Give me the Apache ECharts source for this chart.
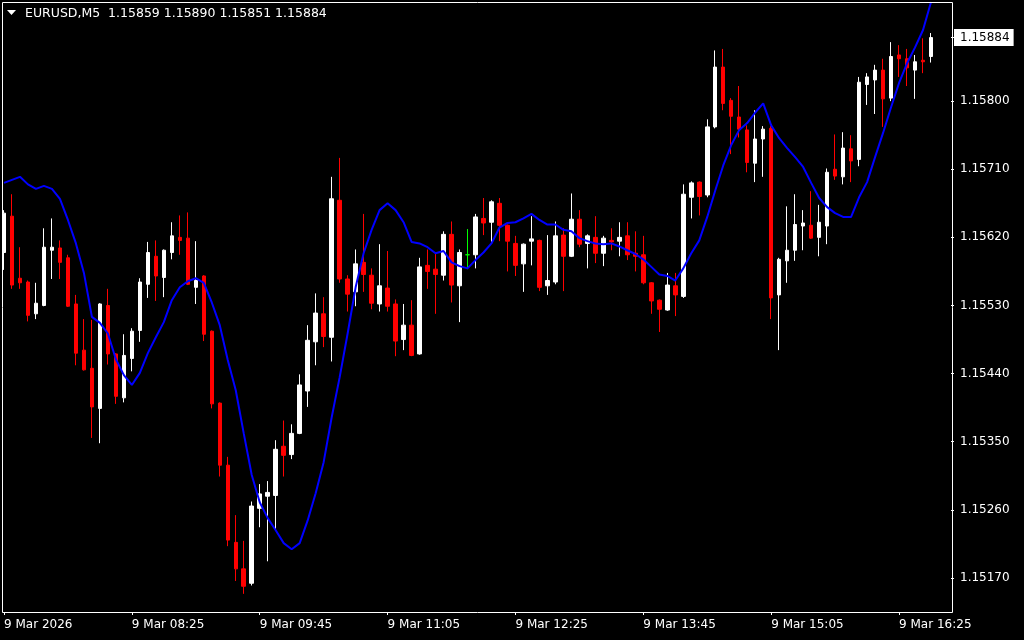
<!DOCTYPE html>
<html>
<head>
<meta charset="utf-8">
<script src="https://cdn.jsdelivr.net/npm/echarts@6/dist/echarts.min.js"></script>
<style>html,body{margin:0;padding:0;background:#000;}#c{width:1024px;height:640px;}</style>
</head>
<body>
<div id="c"></div>
<script>
// ---- data (EURUSD M5, 9 Mar 2026, 07:05 .. 16:45) ----
const symbol = 'EURUSD,M5';
const dayLabel = '9 Mar';
const yearLabel = '2026';
const startTime = '07:05';
const barMinutes = 5;
const emptySlots = 2;

const open = [1.15600,1.15648,1.15566,1.15561,1.15519,1.15530,1.15603,1.15606,1.15593,1.15532,
1.15471,1.15447,1.15394,1.15530,1.15466,1.15408,1.15460,1.15497,1.15558,1.15595,
1.15567,1.15600,1.15620,1.15619,1.15554,1.15569,1.15496,1.15401,1.15319,1.15217,
1.15182,1.15163,1.15262,1.15278,1.15279,1.15344,1.15333,1.15361,1.15417,1.15482,
1.15519,1.15488,1.15669,1.15565,1.15548,1.15587,1.15570,1.15532,1.15553,1.15532,
1.15485,1.15504,1.15466,1.15583,1.15578,1.15570,1.15624,1.15556,1.15597,1.15597,
1.15645,1.15640,1.15665,1.15636,1.15612,1.15585,1.15615,1.15616,1.15556,1.15561,
1.15623,1.15595,1.15644,1.15612,1.15620,1.15599,1.15616,1.15615,1.15622,1.15599,
1.15597,1.15560,1.15537,1.15524,1.15556,1.15542,1.15673,1.15693,1.15676,1.15766,
1.15845,1.15801,1.15779,1.15762,1.15718,1.15750,1.15764,1.15544,1.15589,1.15603,
1.15635,1.15636,1.15620,1.15635,1.15710,1.15700,1.15737,1.15723,1.15822,1.15828,
1.15841,1.15804,1.15861,1.15856,1.15841,1.15854,1.15859];

const close = [1.15652,1.15557,1.15560,1.15517,1.15533,1.15607,1.15607,1.15587,1.15529,1.15467,
1.15445,1.15396,1.15532,1.15466,1.15410,1.15464,1.15496,1.15561,1.15600,1.15569,
1.15603,1.15622,1.15616,1.15558,1.15563,1.15492,1.15400,1.15319,1.15220,1.15182,
1.15159,1.15265,1.15281,1.15283,1.15340,1.15332,1.15361,1.15425,1.15484,1.15520,
1.15489,1.15671,1.15565,1.15545,1.15585,1.15571,1.15533,1.15556,1.15529,1.15483,
1.15504,1.15464,1.15581,1.15575,1.15571,1.15624,1.15557,1.15600,1.15597,1.15647,
1.15639,1.15667,1.15636,1.15615,1.15583,1.15611,1.15618,1.15554,1.15563,1.15622,
1.15595,1.15644,1.15611,1.15622,1.15599,1.15619,1.15614,1.15620,1.15597,1.15595,
1.15560,1.15536,1.15525,1.15557,1.15544,1.15677,1.15692,1.15674,1.15766,1.15845,
1.15797,1.15780,1.15763,1.15719,1.15750,1.15763,1.15540,1.15591,1.15603,1.15637,
1.15639,1.15619,1.15640,1.15706,1.15701,1.15738,1.15721,1.15825,1.15832,1.15841,
1.15803,1.15859,1.15856,1.15844,1.15852,1.15852,1.15884];

const low = [1.15577,1.15552,1.15552,1.15509,1.15512,1.15529,1.15565,1.15565,1.15528,1.15451,
1.15444,1.15355,1.15348,1.15452,1.15400,1.15402,1.15443,1.15482,1.15540,1.15536,
1.15541,1.15591,1.15597,1.15557,1.15532,1.15483,1.15394,1.15304,1.15212,1.15166,
1.15149,1.15160,1.15237,1.15192,1.15232,1.15304,1.15327,1.15360,1.15396,1.15451,
1.15475,1.15456,1.15560,1.15522,1.15529,1.15548,1.15525,1.15522,1.15522,1.15463,
1.15471,1.15463,1.15465,1.15552,1.15519,1.15563,1.15534,1.15508,1.15578,1.15579,
1.15623,1.15614,1.15615,1.15575,1.15569,1.15548,1.15583,1.15549,1.15544,1.15558,
1.15549,1.15594,1.15607,1.15579,1.15586,1.15582,1.15603,1.15595,1.15590,1.15575,
1.15558,1.15519,1.15495,1.15523,1.15516,1.15540,1.15645,1.15649,1.15673,1.15764,
1.15788,1.15730,1.15752,1.15706,1.15693,1.15700,1.15512,1.15471,1.15560,1.15589,
1.15603,1.15618,1.15595,1.15611,1.15696,1.15690,1.15693,1.15714,1.15795,1.15783,
1.15766,1.15800,1.15832,1.15820,1.15803,1.15837,1.15851];

const high = [1.15656,1.15677,1.15607,1.15563,1.15560,1.15632,1.15645,1.15616,1.15597,1.15544,
1.15512,1.15511,1.15533,1.15552,1.15467,1.15492,1.15500,1.15566,1.15614,1.15616,
1.15604,1.15640,1.15649,1.15653,1.15615,1.15570,1.15497,1.15402,1.15330,1.15253,
1.15219,1.15271,1.15294,1.15298,1.15352,1.15378,1.15373,1.15439,1.15504,1.15546,
1.15541,1.15700,1.15725,1.15570,1.15604,1.15651,1.15579,1.15611,1.15602,1.15538,
1.15532,1.15537,1.15593,1.15604,1.15598,1.15628,1.15641,1.15604,1.15631,1.15651,
1.15672,1.15669,1.15672,1.15637,1.15622,1.15612,1.15648,1.15617,1.15623,1.15641,
1.15632,1.15678,1.15656,1.15624,1.15648,1.15622,1.15632,1.15640,1.15640,1.15628,
1.15622,1.15561,1.15538,1.15573,1.15573,1.15690,1.15694,1.15694,1.15776,1.15867,
1.15869,1.15804,1.15820,1.15768,1.15788,1.15767,1.15767,1.15593,1.15661,1.15677,
1.15656,1.15681,1.15663,1.15711,1.15756,1.15759,1.15755,1.15832,1.15837,1.15848,
1.15856,1.15878,1.15874,1.15869,1.15861,1.15883,1.15890];

// blue indicator line, read per bar
const maLine = [1.15692,1.15696,1.15700,1.15690,1.15684,1.15688,1.15684,1.15671,1.15643,1.15612,
1.15573,1.15515,1.15507,1.15493,1.15459,1.15438,1.15425,1.15441,1.15467,1.15488,
1.15508,1.15537,1.15554,1.15562,1.15566,1.15560,1.15534,1.15504,1.15458,1.15418,
1.15361,1.15306,1.15270,1.15249,1.15233,1.15216,1.15208,1.15216,1.15246,1.15282,
1.15323,1.15382,1.15435,1.15493,1.15554,1.15599,1.15630,1.15656,1.15665,1.15656,
1.15640,1.15614,1.15612,1.15607,1.15599,1.15602,1.15587,1.15582,1.15579,1.15590,
1.15600,1.15612,1.15633,1.15639,1.15640,1.15645,1.15651,1.15643,1.15637,1.15637,
1.15630,1.15628,1.15619,1.15615,1.15612,1.15611,1.15612,1.15608,1.15603,1.15598,
1.15591,1.15581,1.15571,1.15569,1.15563,1.15579,1.15599,1.15616,1.15647,1.15682,
1.15715,1.15742,1.15762,1.15771,1.15785,1.15797,1.15768,1.15751,1.15738,1.15726,
1.15713,1.15692,1.15672,1.15660,1.15652,1.15647,1.15647,1.15673,1.15693,1.15726,
1.15758,1.15792,1.15824,1.15850,1.15871,1.15894,1.15931];

const priceTicks = [1.15170,1.15260,1.15350,1.15440,1.15530,1.15620,1.15710,1.15800];
const yMin = 1.15125, yMax = 1.15931;

// ---- build ----
const n = open.length;
const [sh, sm] = startTime.split(':').map(Number);
const cats = [];
for (let i = 0; i < n + emptySlots; i++) {
  const t = sh * 60 + sm + i * barMinutes;
  cats.push(String(Math.floor(t / 60)).padStart(2, '0') + ':' + String(t % 60).padStart(2, '0'));
}
const candles = open.map((o, i) => [o, close[i], low[i], high[i]]);
const lastClose = close[n - 1];
const header = symbol + '  ' + [open[n-1], high[n-1], low[n-1], close[n-1]].map(v => v.toFixed(5)).join(' ');
const labelVals = priceTicks.concat([lastClose]);

const font = 'DejaVu Sans';
const chart = echarts.init(document.getElementById('c'), null, {renderer: 'canvas'});
chart.setOption({
  backgroundColor: '#000000',
  animation: false,
  grid: {left: -1, top: 2, width: 952, height: 610, show: false},
  xAxis: {
    type: 'category', data: cats, boundaryGap: true,
    axisLine: {show: false},
    axisTick: {show: true, alignWithLabel: true, interval: 15, length: 3, inside: false,
               lineStyle: {color: '#ffffff', width: 1}},
    axisLabel: {interval: 15, align: 'left', color: '#ffffff', fontFamily: font, fontSize: 12, margin: 7,
      formatter: (v, i) => i === 0 ? dayLabel + ' ' + yearLabel : dayLabel + ' ' + v},
    splitLine: {show: false}
  },
  yAxis: {
    type: 'value', position: 'right', min: yMin, max: yMax, scale: true,
    axisLine: {show: false},
    splitLine: {show: false},
    axisTick: {show: true, customValues: labelVals, length: 3, lineStyle: {color: '#ffffff', width: 1}},
    axisLabel: {
      customValues: labelVals, margin: 3, fontFamily: font, fontSize: 12, color: '#ffffff',
      formatter: v => Math.abs(v - lastClose) < 1e-7 ? '{cur|' + v.toFixed(5) + '}' : '{n|' + v.toFixed(5) + '}',
      rich: {
        n: {color: '#ffffff', fontFamily: font, fontSize: 12, padding: [0, 0, 0, 6]},
        cur: {color: '#000000', backgroundColor: '#ffffff', fontFamily: font, fontSize: 12, padding: [3, 4, 2, 6]}
      }
    }
  },
  graphic: [
    {type: 'rect', silent: true, z: 100, shape: {x: 2.5, y: 2.5, width: 950, height: 610},
     style: {fill: 'none', stroke: '#ffffff', lineWidth: 1}},
    {type: 'polygon', silent: true, z: 100, shape: {points: [[7, 10], [16, 10], [11.5, 15]]},
     style: {fill: '#ffffff'}},
    {type: 'text', silent: true, z: 100, left: 25, top: 7,
     style: {text: header, fill: '#ffffff', font: '12.5px "DejaVu Sans"'}}
  ],
  series: [
    {
      type: 'candlestick', data: candles, barWidth: 4,
      itemStyle: {color: '#ffffff', color0: '#ff0000', borderColor: '#ffffff', borderColor0: '#ff0000',
                  borderColorDoji: '#00ff00', borderWidth: 1}
    },
    {
      type: 'line', data: maLine, showSymbol: false, symbol: 'none', smooth: false, z: 5,
      lineStyle: {color: '#0000ff', width: 2}
    }
  ]
});
</script>
</body>
</html>
